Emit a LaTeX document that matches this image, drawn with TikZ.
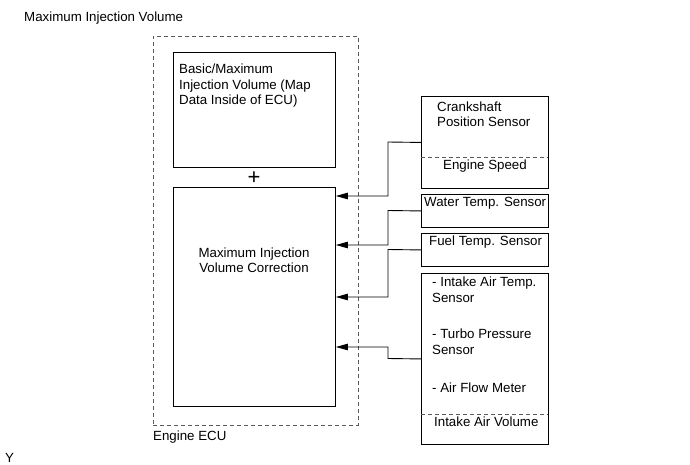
\documentclass[tikz,border=0pt]{standalone}
\usepackage{fontspec}
\setmainfont{Liberation Sans}
\usetikzlibrary{arrows.meta}
\begin{document}
\begin{tikzpicture}[x=1pt,y=-1pt,
  every node/.style={font=\fontsize{13.3}{15.5}\selectfont, inner sep=0pt},
  box/.style={draw=black, line width=0.9pt, rectangle, anchor=north west},
  ecu/.style={draw=black!65, line width=0.9pt, dash pattern=on 4pt off 3pt, rectangle, anchor=north west},
  sep/.style={draw=black!65, line width=0.9pt, dash pattern=on 4pt off 3pt},
  arr/.style={draw=black, line width=0.9pt, -{Triangle[length=12pt,width=6.5pt]}},
  lbl/.style={align=left, anchor=west}
]
\useasboundingbox (0,0) rectangle (690,465);
% title
\node[anchor=west] (title) at (24,18) {Maximum Injection Volume};
% ECU
\node[ecu, minimum width=205pt, minimum height=389pt] (ecubox) at (153,36) {};
\node[anchor=west] (ecutext) at (153,437) {Engine ECU};
\node[anchor=west] (y) at (5,458) {Y};
% inner boxes
\node[box, minimum width=162pt, minimum height=115pt] (basic) at (173,52) {};
\node[lbl] (basictext) at (179,86) {Basic/Maximum\\Injection Volume (Map\\Data Inside of ECU)};
\node[font=\fontsize{22}{22}\selectfont] (plus) at (254,178) {+};
\node[box, minimum width=162pt, minimum height=219pt] (corr) at (173,187) {};
\node[align=center] (corrtext) at (254,260) {Maximum Injection\\Volume Correction};
% sensors
\node[box, minimum width=127pt, minimum height=92pt] (crank) at (421,96) {};
\node[lbl] (cranktext) at (437,114) {Crankshaft\\Position Sensor};
\coordinate (c1) at (421,157);
\coordinate (c2) at (548,157);
\draw[sep] (c1) -- (c2);
\node (engspeed) at (485,166) {Engine Speed};
\node[box, minimum width=127pt, minimum height=33pt] (water) at (421,194) {};
\node[anchor=west] (watertext) at (424,203) {Water Temp. Sensor};
\node[box, minimum width=127pt, minimum height=33pt] (fuel) at (421,233) {};
\node[anchor=west] (fueltext) at (429,242) {Fuel Temp. Sensor};
\node[box, minimum width=127pt, minimum height=171pt] (intake) at (421,273) {};
\node[lbl] (iat) at (432,289.5) {- Intake Air Temp.\\Sensor};
\node[lbl] (turbo) at (432,341.5) {- Turbo Pressure\\Sensor};
\node[lbl] (afm) at (432,388) {- Air Flow Meter};
\coordinate (i1) at (421,414);
\coordinate (i2) at (548,414);
\draw[sep] (i1) -- (i2);
\node[anchor=west] (iav) at (434,422) {Intake Air Volume};
% connectors
\draw[arr] (crank.west) -- (388,142) |- (corr.east |- 0,196);
\draw[arr] (water.west) -- (388,210.5) |- (corr.east |- 0,245);
\draw[arr] (fuel.west) -- (388,249.5) |- (corr.east |- 0,297);
\draw[arr] (intake.west) -- (388,358.5) |- (corr.east |- 0,347);
\end{tikzpicture}
\end{document}
